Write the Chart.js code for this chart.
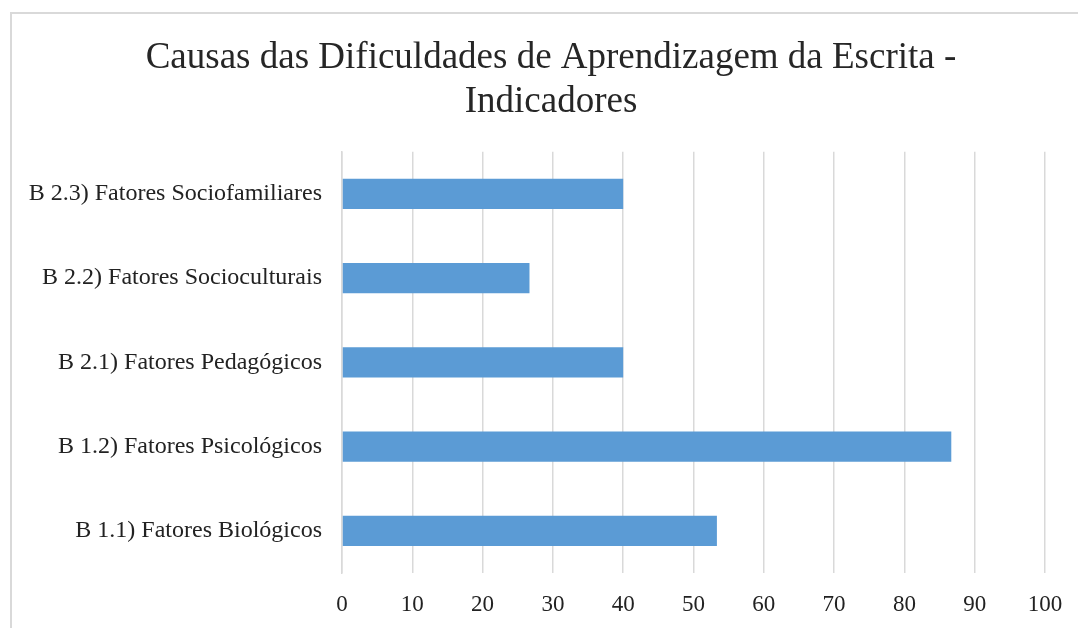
<!DOCTYPE html>
<html>
<head>
<meta charset="utf-8">
<script src="https://cdn.jsdelivr.net/npm/chart.js"></script>
<style>
  html, body { margin: 0; background: #fff; overflow: hidden; }
  #box {
    position: absolute; left: 10px; top: 12px;
    width: 1068px; height: 616px;
    border: 2px solid #d9d9d9; border-bottom: none; border-right: none;
    box-sizing: border-box;
  }
  #wrap { position: absolute; left: 0; top: 0; width: 1066px; height: 614px; }
</style>
</head>
<body>
<div id="box"><div id="wrap"><canvas id="myChart"></canvas></div></div>
<script>
const categories = [
  'B 2.3) Fatores Sociofamiliares',
  'B 2.2) Fatores Socioculturais',
  'B 2.1) Fatores Pedagógicos',
  'B 1.2) Fatores Psicológicos',
  'B 1.1) Fatores Biológicos'
];
const values = [40, 26.67, 40, 86.67, 53.33];
const xTicks = [0, 10, 20, 30, 40, 50, 60, 70, 80, 90, 100];

const ctx = document.getElementById('myChart');

new Chart(ctx, {
  type: 'bar',
  data: {
    labels: categories,
    datasets: [{
      label: 'Indicadores',
      data: values,
      backgroundColor: '#5b9bd5',
      borderWidth: 0,
      barPercentage: 0.36,
      categoryPercentage: 1
    }]
  },
  options: {
    indexAxis: 'y',
    responsive: true,
    maintainAspectRatio: false,
    animation: false,
    layout: { padding: { left: 37, right: 25, top: 22, bottom: 0 } },
    plugins: {
      legend: { display: false },
      tooltip: { enabled: false },
      title: {
        display: true,
        text: ['Causas das Dificuldades de Aprendizagem da Escrita -', 'Indicadores'],
        font: { family: 'Liberation Serif', size: 37, weight: 'normal' },
        color: '#262626',
        lineHeight: 1.18,
        padding: { top: 0, bottom: 27 }
      }
    },
    scales: {
      x: {
        min: 0,
        max: 100,
        afterBuildTicks: axis => { axis.ticks = xTicks.map(v => ({ value: v })); },
        afterFit: axis => {
          axis.height = 55;
          axis.paddingRight = 33;
        },
        grid: { color: '#d9d9d9', lineWidth: 1.5, drawTicks: false },
        border: { display: false },
        ticks: {
          color: '#222',
          padding: 18,
          font: { family: 'Liberation Serif', size: 23 }
        }
      },
      y: {
        afterFit: axis => {
          axis.width = 293;
          // labels run past the axis box to the left, so don't clip them
          axis._computeLabelArea = () => null;
        },
        grid: { display: false, drawTicks: false },
        border: { color: '#d9d9d9', width: 1.5 },
        ticks: {
          color: '#222',
          padding: 20,
          font: { family: 'Liberation Serif', size: 24 }
        }
      }
    }
  }
});
</script>
</body>
</html>
